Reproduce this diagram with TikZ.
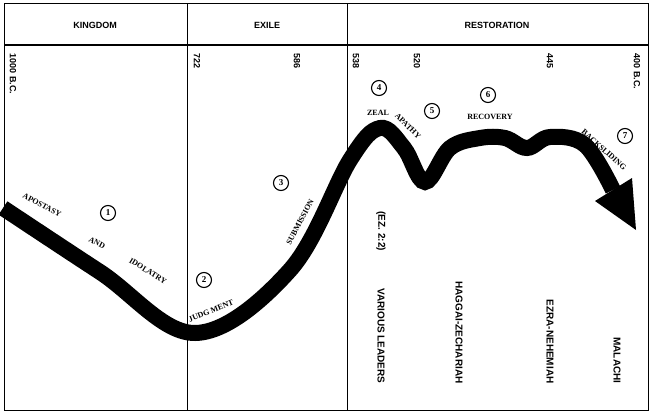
\documentclass[tikz,border=0pt]{standalone}
\usepackage{fontspec}
\setmainfont{Liberation Serif}
\newfontfamily\hd{Liberation Sans}
\usetikzlibrary{calc}
\begin{document}
\begin{tikzpicture}[x=1pt,y=-1pt,
  hdr/.style={font=\hd\bfseries\small},
  yr/.style={font=\hd\bfseries\small,rotate=-90,anchor=west},
  nm/.style={font=\hd\bfseries\normalsize,rotate=-90,anchor=east},
  lab/.style={font=\bfseries\footnotesize,inner sep=1pt},
  num/.style={draw,circle,line width=1.1pt,inner sep=1.2pt,minimum size=15pt,font=\bfseries\small}]
\useasboundingbox (0,0) rectangle (652,414);
\fill[white] (0,0) rectangle (652,414);
\draw[line width=1pt] (4,4) rectangle (648,410);
\draw[line width=2.5pt] (4,45) -- (648,45);
\draw[line width=1pt] (187,4) -- (187,410);
\draw[line width=1pt] (347,4) -- (347,410);
\node[hdr] (k) at (95,25) {KINGDOM};
\node[hdr] (e) at (267,25) {EXILE};
\node[hdr] (r) at (497,25) {RESTORATION};
\node[yr] (y1) at (13,50) {1000 B.C.};
\node[yr] (y2) at (197,50) {722};
\node[yr] (y3) at (297,50) {586};
\node[yr] (y4) at (356,50) {538};
\node[yr] (y5) at (417,50) {520};
\node[yr] (y6) at (550,50) {445};
\node[yr] (y7) at (637,50) {400 B.C.};
\coordinate (c0) at (3,208);
\coordinate (c1) at (100,272);
\coordinate (c2) at (195,333);
\coordinate (c3) at (290,270);
\coordinate (c4) at (350,160);
\coordinate (c5) at (380,128);
\coordinate (c6) at (404,148);
\coordinate (c7) at (425,182);
\coordinate (c8) at (450,148);
\coordinate (c9) at (480,138);
\coordinate (c10) at (505,138);
\coordinate (c11) at (527,148);
\coordinate (c12) at (550,137);
\coordinate (c13) at (585,145);
\coordinate (c14) at (613,190);
\draw[line width=16pt] plot[smooth,tension=0.6] coordinates {(c0)(c1)(c2)(c3)(c4)(c5)(c6)(c7)(c8)(c9)(c10)(c11)(c12)(c13)(c14)};
\coordinate (tip) at (636,230);
\fill ($(c14)+(-18,11)$) -- (tip) -- ($(c14)+(19,-12)$) -- cycle;
\node[num] (n1) at (108,213) {1};
\node[num] (n2) at (204,280) {2};
\node[num] (n3) at (281,183) {3};
\node[num] (n4) at (379,88) {4};
\node[num] (n5) at (432,111) {5};
\node[num] (n6) at (488,95) {6};
\node[num] (n7) at (625,136) {7};
\node[lab,rotate=-28] (l1) at (42,205) {APOSTASY};
\node[lab,rotate=-28] (l2) at (97,243) {AND};
\node[lab,rotate=-32] (l3) at (148,271) {IDOLATRY};
\node[lab,rotate=22] (l4) at (211,311) {JUDG MENT};
\node[lab,rotate=62] (l5) at (300,222) {SUBMISSION};
\node[lab] (l6) at (378,113) {ZEAL};
\node[lab,rotate=-45] (l7) at (408,126) {APATHY};
\node[lab] (l8) at (490,117) {RECOVERY};
\node[lab,rotate=-42] (l9) at (604,150) {BACKSLIDING};
\node[yr,font=\hd\bfseries\normalsize] (m0) at (381,208) {(EZ. 2:2)};
\node[nm] (m1) at (381,387) {VARIOUS LEADERS};
\node[nm] (m2) at (459,387) {HAGGAI-ZECHARIAH};
\node[nm] (m3) at (550,387) {EZRA-NEHEMIAH};
\node[nm] (m4) at (617,387) {MALACHI};
\end{tikzpicture}
\end{document}
